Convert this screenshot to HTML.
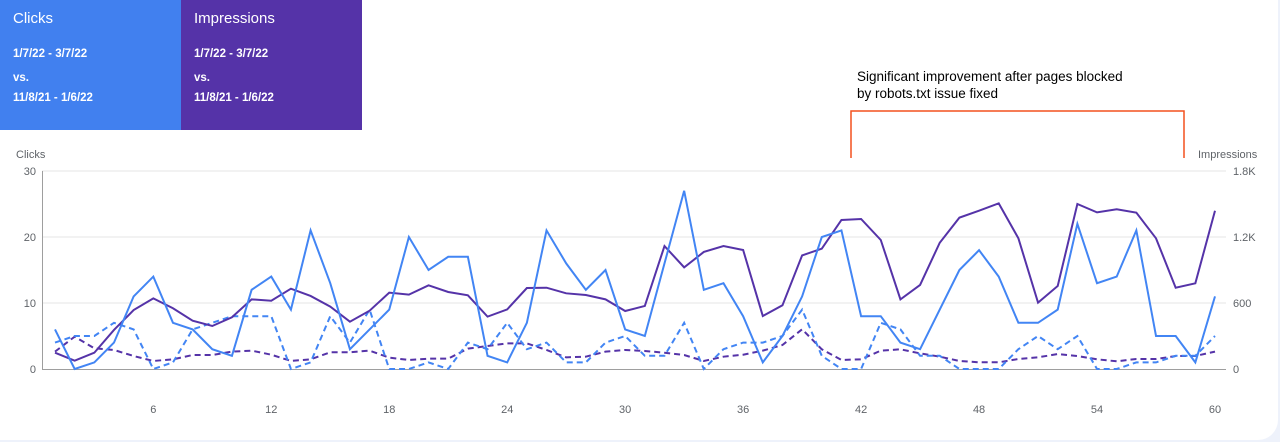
<!DOCTYPE html>
<html><head><meta charset="utf-8">
<style>
html,body{margin:0;padding:0;width:1280px;height:442px;overflow:hidden;background:#eef2fb;font-family:"Liberation Sans",sans-serif;}
#card{position:absolute;left:0;top:0;width:1278px;height:440px;background:#fff;border-bottom-right-radius:20px;}
.box{position:absolute;top:0;height:130px;width:181px;color:#fff;}
.box .t{position:absolute;left:13px;top:10px;font-size:15px;}
.box .d{position:absolute;left:13px;font-size:11.5px;font-weight:bold;}
svg{position:absolute;left:0;top:0;}
</style></head><body>
<div id="card">
<div class="box" style="left:0;background:#4180ef">
<div class="t">Clicks</div>
<div class="d" style="top:48px">1/7/22 - 3/7/22</div>
<div class="d" style="top:72px">vs.</div>
<div class="d" style="top:92px">11/8/21 - 1/6/22</div>
</div>
<div class="box" style="left:181px;background:#5533a8">
<div class="t">Impressions</div>
<div class="d" style="top:48px">1/7/22 - 3/7/22</div>
<div class="d" style="top:72px">vs.</div>
<div class="d" style="top:92px">11/8/21 - 1/6/22</div>
</div>
<svg id="chart" width="1280" height="442"></svg>
</div>
<script>
const days = Array.from({length:60},(_,i)=>i+1);
const xTickLabels = [6,12,18,24,30,36,42,48,54,60];
const leftTicks = [0,10,20,30];
const rightTicks = [0,600,1200,1800];
const rightTickLabels = ["0","600","1.2K","1.8K"];
const clicksCurrent = [6,0,1,4,11,14,7,6,3,2,12,14,9,21,13,3,6,9,20,15,17,17,2,1,7,21,16,12,15,6,5,16,27,12,13,8,1,5,11,20,21,8,8,4,3,9,15,18,14,7,7,9,22,13,14,21,5,5,1,11];
const clicksPrevious = [4,5,5,7,6,0,1,6,7,8,8,8,0,1,8,4,9,0,0,1,0,4,3,7,3,4,1,1,4,5,2,2,7,0,3,4,4,5,9,2,0,0,7,6,2,2,0,0,0,3,5,3,5,0,0,1,1,2,2,5];
const impCurrent = [148,76,148,355,536,642,552,439,391,470,633,621,730,664,567,430,530,694,676,761,700,670,476,542,736,739,688,673,633,527,573,1118,924,1064,1118,1082,482,579,1033,1094,1355,1364,1173,633,764,1148,1376,1439,1506,1188,603,755,1500,1424,1452,1421,1188,739,779,1439];
const impPrevious = [158,294,188,173,118,73,88,127,127,158,167,130,73,88,152,152,167,103,82,94,94,185,209,233,233,173,106,112,158,173,164,148,127,73,112,130,167,218,361,179,82,88,167,179,142,112,73,61,61,91,106,136,118,88,70,91,91,118,118,158];

const svg=document.getElementById('chart');
const NS='http://www.w3.org/2000/svg';
const X0=55,X1=1215,Y0=369,Y1=171;
const x=d=>X0+(d-1)*(X1-X0)/59;
const yL=v=>Y0-v*(Y0-Y1)/30;
const yR=v=>Y0-v*(Y0-Y1)/1800;
function mk(tag,attrs){const e=document.createElementNS(NS,tag);for(const k in attrs)e.setAttribute(k,attrs[k]);svg.appendChild(e);return e;}
function txt(s,attrs){const e=mk('text',attrs);e.textContent=s;return e;}

leftTicks.forEach((v,i)=>{
  if(v>0){const g=mk('line',{x1:42,x2:1226,y1:yL(v),y2:yL(v),stroke:'#e6e6e6','stroke-width':1});
  
  }
  const t=txt(String(v),{x:36,y:yL(v)+4,'text-anchor':'end','font-size':11,fill:'#5f6368'});
  
  
});
rightTicks.forEach((v,i)=>{
  const t=txt(rightTickLabels[i],{x:1233,y:yR(v)+4,'font-size':11,fill:'#5f6368'});
  
  
});
xTickLabels.forEach(d=>{
  const t=txt(String(d),{x:x(d),y:413,'text-anchor':'middle','font-size':11,fill:'#5f6368'});
  
  
});
const ax=mk('line',{x1:42.5,x2:42.5,y1:171,y2:369,stroke:'#9e9e9e','stroke-width':1});


const bx=mk('line',{x1:42,x2:1226,y1:369.5,y2:369.5,stroke:'#9e9e9e','stroke-width':1});


const lt=txt('Clicks',{x:16,y:158,'font-size':11,fill:'#5f6368'});


const rt=txt('Impressions',{x:1198,y:158,'font-size':11,fill:'#5f6368'});



function series(vals,yf,color,dash,name){
  const p=mk('polyline',{points:vals.map((v,i)=>x(days[i])+','+yf(v)).join(' '),fill:'none',stroke:color,'stroke-width':2,'stroke-linejoin':'miter'});
  if(dash)p.setAttribute('stroke-dasharray',dash);
  
  
}
series(impPrevious,yR,'#5533a8','6 4','impressions-previous-line');
series(clicksPrevious,yL,'#4285f4','6 4','clicks-previous-line');
series(impCurrent,yR,'#5533a8',null,'impressions-current-line');
series(clicksCurrent,yL,'#4285f4',null,'clicks-current-line');

const br=mk('polyline',{points:'851,158 851,111 1184,111 1184,158',fill:'none',stroke:'#f4511e','stroke-width':1.5});


const a1=txt('Significant improvement after pages blocked',{x:857,y:81,'font-size':13.5,fill:'#000'});


const a2=txt('by robots.txt issue fixed',{x:857,y:98,'font-size':13.5,fill:'#000'});


</script>
</body></html>
